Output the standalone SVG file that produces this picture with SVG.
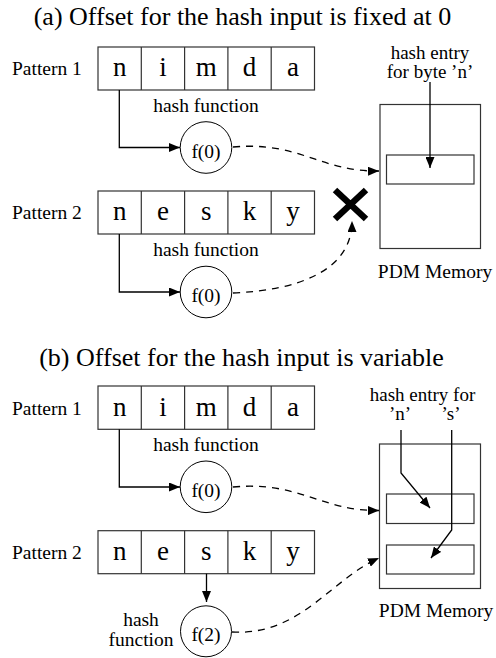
<svg xmlns="http://www.w3.org/2000/svg" width="496" height="658" viewBox="0 0 496 658">
<style>
text{font-family:'Liberation Serif','Times New Roman',Times,'Nimbus Roman','Tinos','Noto Serif','DejaVu Serif',serif;fill:#000}
.title{font-size:26px;text-anchor:middle}
.lbl{font-size:19.5px}
.sm{font-size:19px}
.mid{text-anchor:middle}
.cell{font-size:27px;text-anchor:middle}
.box{fill:none;stroke:#333;stroke-width:1.2}
.conn{fill:none;stroke:#000;stroke-width:1.3}
.dash{fill:none;stroke:#000;stroke-width:1.3;stroke-dasharray:7 6}
.circ{fill:#fff;stroke:#000;stroke-width:1}
</style>
<defs>
<marker id="ah" markerUnits="userSpaceOnUse" markerWidth="12" markerHeight="9" refX="11" refY="4.5" orient="auto">
<path d="M0,0 L11,4.5 L0,9 z" fill="#000" stroke="none"/>
</marker>
</defs>
<text class="title" x="242.5" y="25">(a) Offset for the hash input is fixed at 0</text>
<text class="title" x="241.5" y="366">(b) Offset for the hash input is variable</text>

<g id="a-pattern1">
<text class="lbl" x="12" y="75">Pattern 1</text>
<rect class="box" x="98" y="47" width="216.5" height="43"/>
<path class="box" d="M141.3,47V90M184.6,47V90M227.9,47V90M271.2,47V90"/>
<text class="cell" x="119.7" y="76">n</text>
<text class="cell" x="163" y="76">i</text>
<text class="cell" x="206.3" y="76">m</text>
<text class="cell" x="249.6" y="76">d</text>
<text class="cell" x="292.9" y="76">a</text>
<text class="lbl mid" x="206" y="112">hash function</text>
</g>
<g id="a-f0-1">
<circle class="circ" cx="206" cy="147.5" r="25.8"/>
<text class="lbl mid" x="206" y="157.5">f(0)</text>
</g>

<g id="a-pattern2">
<text class="lbl" x="12" y="219">Pattern 2</text>
<rect class="box" x="98" y="191" width="216.5" height="43"/>
<path class="box" d="M141.3,191V234M184.6,191V234M227.9,191V234M271.2,191V234"/>
<text class="cell" x="119.7" y="220">n</text>
<text class="cell" x="163" y="220">e</text>
<text class="cell" x="206.3" y="220">s</text>
<text class="cell" x="249.6" y="220">k</text>
<text class="cell" x="292.9" y="220">y</text>
<text class="lbl mid" x="206" y="256">hash function</text>
</g>
<g id="a-f0-2">
<circle class="circ" cx="206" cy="292" r="25.8"/>
<text class="lbl mid" x="206" y="302">f(0)</text>
</g>

<g id="a-memory">
<rect class="box" x="380" y="104.5" width="100.5" height="144"/>
<rect class="box" x="386.5" y="155" width="87.5" height="29"/>
<text class="sm mid" x="430" y="59">hash entry</text>
<text class="sm mid" x="430" y="78">for byte ’n’</text>
<text class="lbl mid" x="435" y="278">PDM Memory</text>
</g>

<g id="a-blocked">
<path d="M335,190L366,219M366,190L335,219" stroke="#000" stroke-width="6.5" fill="none"/>
</g>

<g id="b-pattern1">
<text class="lbl" x="12" y="414.5">Pattern 1</text>
<rect class="box" x="98" y="386" width="216.5" height="43.3"/>
<path class="box" d="M141.3,386V429.3M184.6,386V429.3M227.9,386V429.3M271.2,386V429.3"/>
<text class="cell" x="119.7" y="415.5">n</text>
<text class="cell" x="163" y="415.5">i</text>
<text class="cell" x="206.3" y="415.5">m</text>
<text class="cell" x="249.6" y="415.5">d</text>
<text class="cell" x="292.9" y="415.5">a</text>
<text class="lbl mid" x="206" y="451">hash function</text>
</g>
<g id="b-f0">
<circle class="circ" cx="206" cy="486.8" r="25.8"/>
<text class="lbl mid" x="206" y="496.8">f(0)</text>
</g>

<g id="b-pattern2">
<text class="lbl" x="12" y="559">Pattern 2</text>
<rect class="box" x="98" y="530.7" width="216.5" height="43"/>
<path class="box" d="M141.3,530.7V573.7M184.6,530.7V573.7M227.9,530.7V573.7M271.2,530.7V573.7"/>
<text class="cell" x="119.7" y="560">n</text>
<text class="cell" x="163" y="560">e</text>
<text class="cell" x="206.3" y="560">s</text>
<text class="cell" x="249.6" y="560">k</text>
<text class="cell" x="292.9" y="560">y</text>
</g>
<g id="b-f2">
<circle class="circ" cx="206" cy="631.3" r="25.5"/>
<text class="lbl mid" x="206" y="641">f(2)</text>
<text class="lbl mid" x="141" y="626">hash</text>
<text class="lbl mid" x="141" y="646">function</text>
</g>

<g id="b-memory">
<rect class="box" x="379.5" y="444" width="101" height="144.5"/>
<rect class="box" x="386.5" y="494" width="87.5" height="29.5"/>
<rect class="box" x="386.5" y="545" width="87.5" height="29"/>
<text class="sm mid" x="422.5" y="400.5">hash entry for</text>
<text class="sm mid" x="400" y="420">’n’</text>
<text class="sm mid" x="451" y="420">’s’</text>
<text class="lbl mid" x="436" y="617">PDM Memory</text>
</g>

<g id="connectors">
<path class="conn" d="M119.3,90V147.5H180" marker-end="url(#ah)"/>
<path class="conn" d="M119.3,234V292H180" marker-end="url(#ah)"/>
<path class="conn" d="M430,82V168" marker-end="url(#ah)"/>
<path class="dash" d="M233,147 C300,141 320,172 379,171" marker-end="url(#ah)"/>
<path class="dash" d="M233,293 C300,290 352,270 352,221" marker-end="url(#ah)"/>
<path class="conn" d="M119.3,429.3V487H180" marker-end="url(#ah)"/>
<path class="conn" d="M206.5,573.7V602" marker-end="url(#ah)"/>
<path class="conn" d="M401,430V473L430,508" marker-end="url(#ah)"/>
<path class="conn" d="M451.7,430V530L431,558" marker-end="url(#ah)"/>
<path class="dash" d="M233,487 C300,481 320,511 379,510.5" marker-end="url(#ah)"/>
<path class="dash" d="M232,632 C300,636 330,580 379,558" marker-end="url(#ah)"/>
</g>
</svg>
